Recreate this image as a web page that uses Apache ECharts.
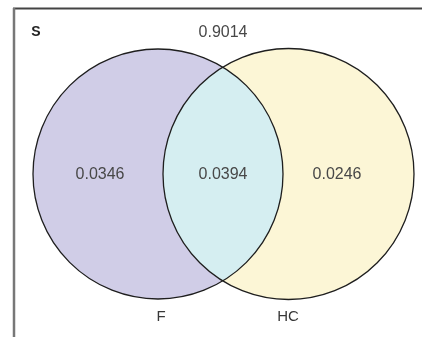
<!DOCTYPE html>
<html>
<head>
<meta charset="utf-8">
<script src="https://cdn.jsdelivr.net/npm/echarts@6/dist/echarts.min.js"></script>
<style>html,body{margin:0;padding:0;background:#fff}#c{width:422px;height:337px}</style>
</head>
<body>
<div id="c"></div>
<script>
// Data
var universeLabel = 'S';
var setNames = ['F', 'HC'];
var onlyF = 0.0346;
var both = 0.0394;
var onlyHC = 0.0246;
var neither = 0.9014;
var regionValues = [onlyF, both, onlyHC, neither];

// Layout (pixel-like units on hidden axes)
var circles = [
  { cx: 158, cy: 174, r: 125, color: '#d0cde7' },
  { cx: 288.5, cy: 174, r: 125.5, color: '#fcf6d6' }
];
var lensColor = '#d5eef1';
var regionPos = [[100, 175], [223, 175], [337, 175], [223, 33]];
var setLabelPos = [[161, 317], [288, 317]];

var chart = echarts.init(document.getElementById('c'), null, { renderer: 'canvas' });

function fmt(v) { return v.toFixed(4); }

var option = {
  animation: false,
  grid: { left: 0, right: 0, top: 0, bottom: 0 },
  xAxis: { type: 'value', min: 0, max: 422, show: false },
  yAxis: { type: 'value', min: 0, max: 337, inverse: true, show: false },
  graphic: [
    { type: 'line', shape: { x1: 13, y1: 8.5, x2: 422, y2: 8.5 }, style: { stroke: '#444', lineWidth: 2 } },
    { type: 'line', shape: { x1: 14, y1: 8, x2: 14, y2: 337 }, style: { stroke: '#777', lineWidth: 2.5 } },
    { type: 'text', style: { x: 36, y: 32, text: universeLabel, textAlign: 'center', textVerticalAlign: 'middle', font: 'bold 14px "Liberation Sans", Arial, sans-serif', fill: '#222' } }
  ],
  series: [
    {
      type: 'custom',
      coordinateSystem: 'cartesian2d',
      data: [[0]],
      renderItem: function (params, api) {
        var cs = circles.map(function (c) {
          var p = api.coord([c.cx, c.cy]);
          var s = api.size([c.r, c.r]);
          return { x: p[0], y: p[1], r: s[0], color: c.color };
        });
        var a = cs[0], b = cs[1];
        var d = b.x - a.x;
        var xi = (d * d - b.r * b.r + a.r * a.r) / (2 * d);
        var h = Math.sqrt(a.r * a.r - xi * xi);
        var px = a.x + xi;
        var top = [px, a.y - h], bot = [px, a.y + h];
        var lens = 'M' + top[0] + ' ' + top[1] +
          ' A' + a.r + ' ' + a.r + ' 0 0 1 ' + bot[0] + ' ' + bot[1] +
          ' A' + b.r + ' ' + b.r + ' 0 0 1 ' + top[0] + ' ' + top[1] + ' Z';
        var children = [];
        cs.forEach(function (c) {
          children.push({ type: 'circle', shape: { cx: c.x, cy: c.y, r: c.r }, style: { fill: c.color, stroke: null } });
        });
        children.push({ type: 'path', shape: { pathData: lens }, style: { fill: lensColor, stroke: null } });
        cs.forEach(function (c) {
          children.push({ type: 'circle', shape: { cx: c.x, cy: c.y, r: c.r }, style: { fill: null, stroke: '#1e1e1e', lineWidth: 1.3 } });
        });
        return { type: 'group', children: children };
      },
      silent: true
    },
    {
      type: 'custom',
      coordinateSystem: 'cartesian2d',
      data: regionValues.map(function (v, i) { return [regionPos[i][0], regionPos[i][1], v]; }),
      renderItem: function (params, api) {
        var p = api.coord([api.value(0), api.value(1)]);
        return { type: 'text', style: { x: p[0], y: p[1], text: fmt(api.value(2)), textAlign: 'center', textVerticalAlign: 'middle', font: '16px "Liberation Sans", Arial, sans-serif', fill: '#484848' } };
      },
      silent: true
    },
    {
      type: 'custom',
      coordinateSystem: 'cartesian2d',
      data: setNames.map(function (n, i) { return [setLabelPos[i][0], setLabelPos[i][1], n]; }),
      renderItem: function (params, api) {
        var p = api.coord([api.value(0), api.value(1)]);
        return { type: 'text', style: { x: p[0], y: p[1], text: setNames[params.dataIndex], textAlign: 'center', textVerticalAlign: 'middle', font: '15px "Liberation Sans", Arial, sans-serif', fill: '#383838' } };
      },
      silent: true
    }
  ]
};
chart.setOption(option);
</script>
</body>
</html>
